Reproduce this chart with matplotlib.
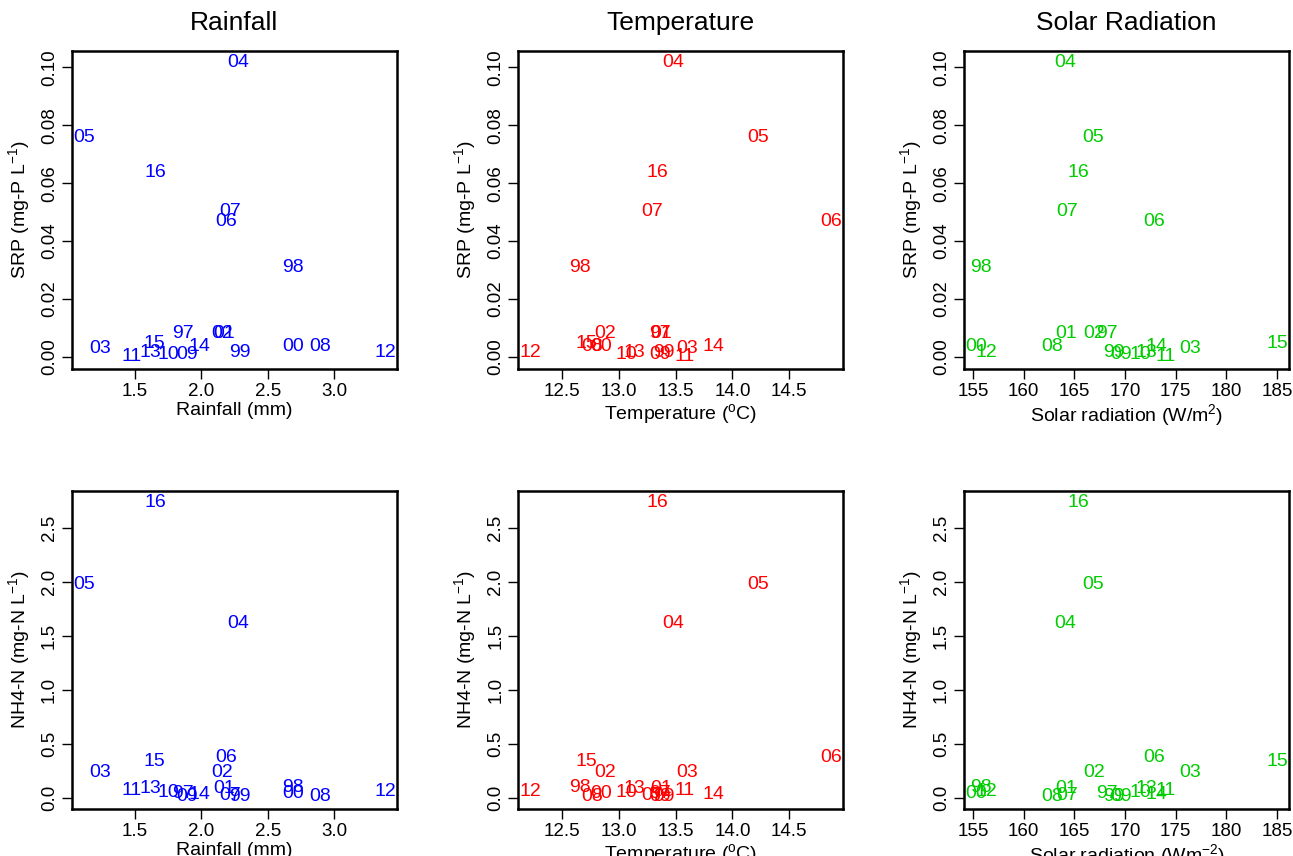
import matplotlib
matplotlib.use("Agg")
import matplotlib.pyplot as plt
import numpy as np

plt.rcParams['font.family'] = ['Liberation Sans', 'DejaVu Sans']
plt.rcParams['mathtext.fontset'] = 'custom'
plt.rcParams['mathtext.rm'] = 'Liberation Sans'
plt.rcParams['mathtext.it'] = 'Liberation Sans:italic'
plt.rcParams['mathtext.default'] = 'regular'

years = ['97', '98', '99', '00', '01', '02', '03', '04', '05', '06',
         '07', '08', '09', '10', '11', '12', '13', '14', '15', '16']
rainfall = [1.86, 2.69, 2.29, 2.69, 2.17, 2.16, 1.24, 2.28, 1.12, 2.19,
            2.22, 2.89, 1.89, 1.75, 1.48, 3.38, 1.62, 1.99, 1.65, 1.655]
temperature = [13.36, 12.66, 13.40, 12.84, 13.37, 12.88, 13.60, 13.48, 14.23, 14.87,
               13.29, 12.76, 13.36, 13.07, 13.58, 12.22, 13.14, 13.83, 12.71, 13.34]
solar = [168.2, 155.8, 168.9, 155.3, 164.2, 167.0, 176.4, 164.1, 166.9, 172.9,
         164.3, 162.8, 169.6, 171.5, 174.0, 156.3, 172.1, 173.1, 185.0, 165.4]
srp = [0.0080, 0.0308, 0.0017, 0.0037, 0.0080, 0.0080, 0.0029, 0.1017, 0.0758, 0.0467,
       0.0502, 0.0037, 0.0008, 0.0008, 0.0000, 0.0017, 0.0016, 0.0037, 0.0048, 0.0637]
nh4 = [0.040, 0.100, 0.010, 0.040, 0.083, 0.231, 0.231, 1.614, 1.981, 0.377,
       0.020, 0.012, 0.009, 0.046, 0.071, 0.062, 0.083, 0.033, 0.336, 2.738]

col_titles = ['Rainfall', 'Temperature', 'Solar Radiation']
col_colors = ['#0000FF', '#FF0000', '#00CD00']
x_data = [rainfall, temperature, solar]
x_ticks = [[1.5, 2.0, 2.5, 3.0], [12.5, 13.0, 13.5, 14.0, 14.5],
           [155, 160, 165, 170, 175, 180, 185]]
x_ticklabels = [['1.5', '2.0', '2.5', '3.0'], ['12.5', '13.0', '13.5', '14.0', '14.5'],
                ['155', '160', '165', '170', '175', '180', '185']]
x_labels_top = ['Rainfall (mm)', r'Temperature ($^{o}$C)', r'Solar radiation (W/m$^{2}$)']
x_labels_bot = ['Rainfall (mm)', r'Temperature ($^{o}$C)', r'Solar radiation (Wm$^{-2}$)']
y_data = [srp, nh4]
y_ticks = [[0.00, 0.02, 0.04, 0.06, 0.08, 0.10], [0.0, 0.5, 1.0, 1.5, 2.0, 2.5]]
y_ticklabels = [['0.00', '0.02', '0.04', '0.06', '0.08', '0.10'],
                ['0.0', '0.5', '1.0', '1.5', '2.0', '2.5']]
y_labels = [r'SRP (mg-P L$^{-1}$)', r'NH4-N (mg-N L$^{-1}$)']

W, H = 1293, 856
fig = plt.figure(figsize=(W / 100, H / 100), dpi=100)

lefts = [72, 518.3, 964]
tops = [50.7, 490.7]
bw, bh = 325, 318


def rlim(v):
    lo, hi = min(v), max(v)
    r = hi - lo
    return lo - 0.04 * r, hi + 0.04 * r


for row in range(2):
    for col in range(3):
        ax = fig.add_axes([lefts[col] / W, 1 - (tops[row] + bh) / H, bw / W, bh / H])
        xs = x_data[col]
        ys = y_data[row]
        for x, y, t in zip(xs, ys, years):
            ax.text(x, y, t, color=col_colors[col], fontsize=14,
                    ha='center', va='center')
        ax.set_xlim(*rlim(xs))
        ax.set_ylim(*rlim(ys))
        ax.set_xticks(x_ticks[col])
        ax.set_xticklabels(x_ticklabels[col])
        ax.set_yticks(y_ticks[row])
        ax.set_yticklabels(y_ticklabels[row])
        ax.tick_params(axis='both', direction='out', length=7, width=1,
                       labelsize=13.5, pad=3)
        ax.tick_params(axis='y', labelrotation=90)
        for lab in ax.get_yticklabels():
            lab.set_va('center')
        for s in ax.spines.values():
            s.set_linewidth(1.8)
        xl = x_labels_top[col] if row == 0 else x_labels_bot[col]
        ax.set_xlabel(xl, fontsize=14, labelpad=2)
        ax.set_ylabel(y_labels[row], fontsize=14)
        ax.yaxis.set_label_coords(-40 / bw, 0.5)
        if row == 0:
            fig.text((lefts[col] + bw / 2) / W, 1 - 23 / H, col_titles[col],
                     fontsize=19, ha='center', va='center')

fig.savefig('out.png', dpi=100)
